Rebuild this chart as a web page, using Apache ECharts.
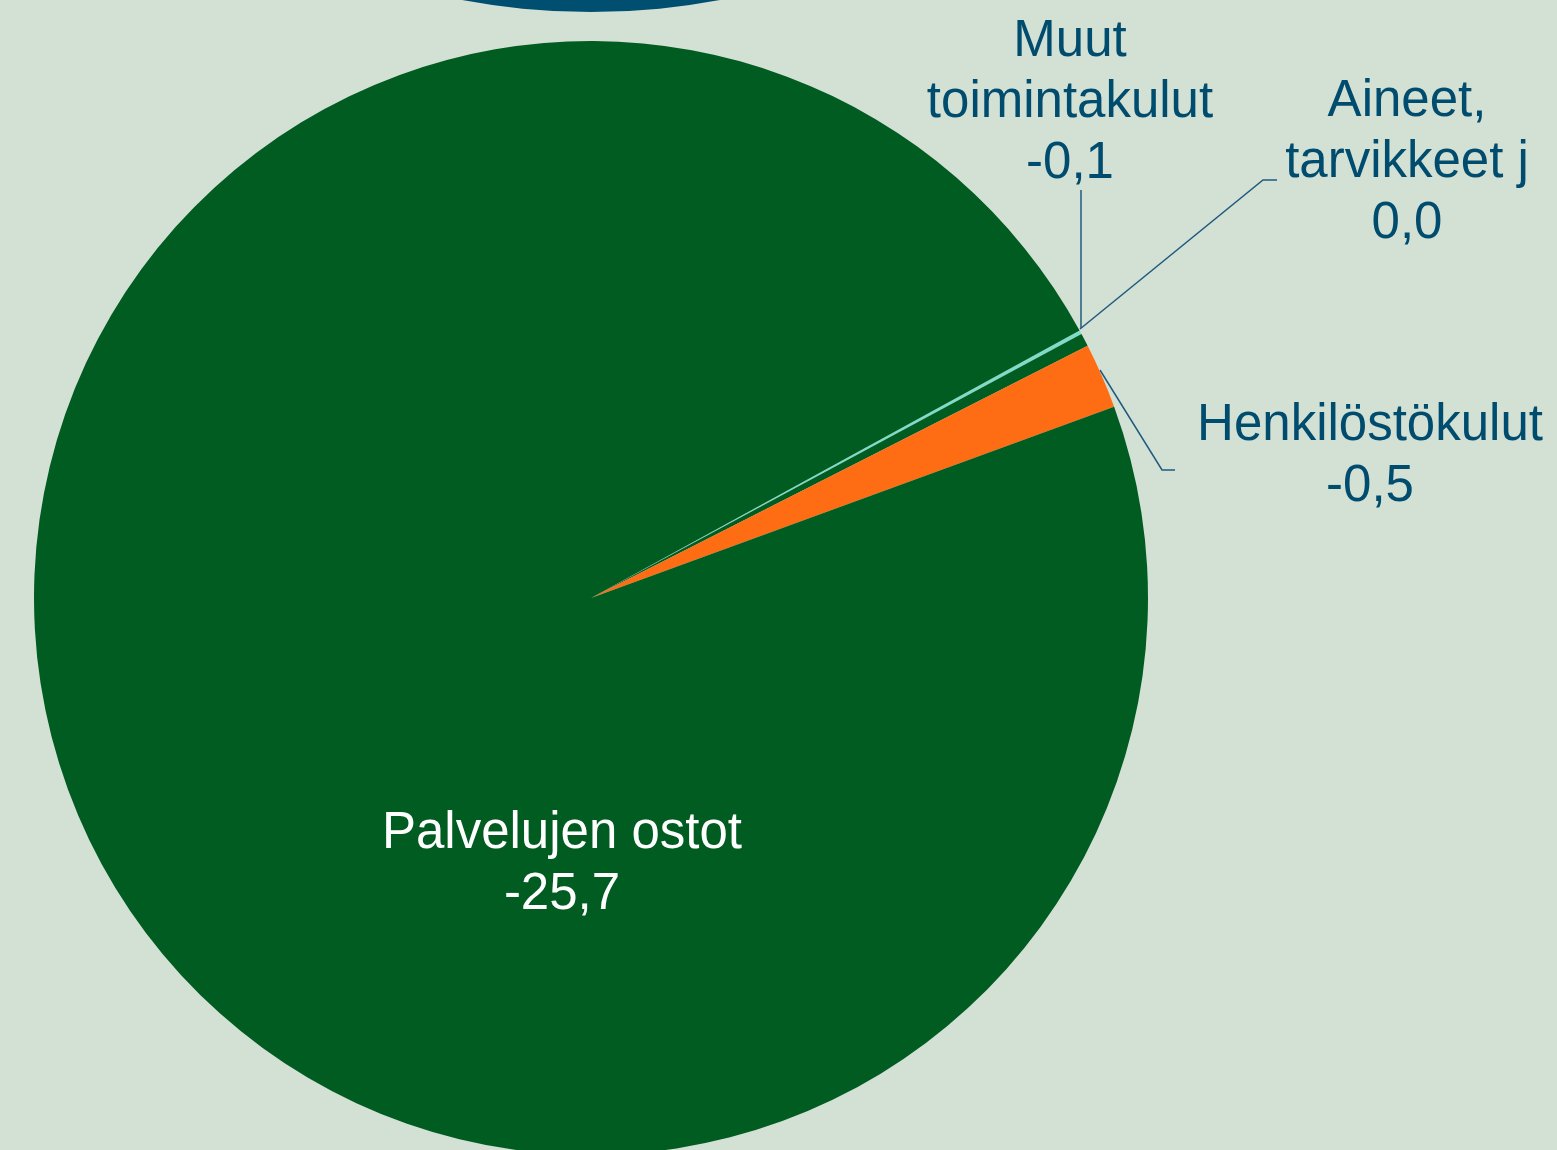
<!DOCTYPE html>
<html>
<head>
<meta charset="utf-8">
<script src="https://cdn.jsdelivr.net/npm/echarts@6/dist/echarts.min.js"></script>
<style>
    html, body { margin: 0; padding: 0; background: #d3e0d4; }
    #chart { width: 1557px; height: 1150px; }
</style>
</head>
<body>
<div id="chart"></div>
<script>
    // 数据（百万）
    const categories = ['Aineet,\ntarvikkeet j', 'Muut\ntoimintakulut', 'Henkilöstökulut', 'Palvelujen ostot']
    const values = [-0.03, -0.1, -0.5, -25.7]
    const colors = ['#7fdcc9', '#005c20', '#fe6d14', '#005c20']

    // label positions (label centre) and leader lines
    const labelPos = [[1407, 163], [1070, 103], [1370, 456], [562, 864]]
    const leaderLines = [
        [[1080, 329], [1263, 180], [1277, 180]],
        [[1081, 328], [1081, 190], [1081, 190]],
        [[1100, 370], [1162, 470], [1175, 470]],
        null
    ]

    const fmt = v => {
        let s = v.toFixed(1)
        if (s === '-0.0') s = '0.0'
        return s.replace('.', ',')
    }

    const seriesData = categories.map((name, i) => {
        const inside = i === 3
        return {
            name: name,
            value: Math.abs(values[i]),
            itemStyle: { color: colors[i] },
            label: {
                position: inside ? 'inside' : 'outside',
                color: inside ? '#ffffff' : '#004c6e'
            },
            labelLine: { show: !inside }
        }
    })

    const chart = echarts.init(document.getElementById('chart'))
    chart.setOption({
        backgroundColor: '#d3e0d4',
        animation: false,
        graphic: [{
            type: 'circle',
            shape: { cx: 591, cy: -687, r: 699 },
            style: { fill: '#004f70' },
            z: -1
        }],
        series: [{
            type: 'pie',
            center: [591, 598],
            radius: 557,
            startAngle: 28.7,
            clockwise: true,
            avoidLabelOverlap: false,
            itemStyle: { borderWidth: 0 },
            label: {
                show: true,
                fontFamily: 'Liberation Sans, Arial, sans-serif',
                fontSize: 51,
                lineHeight: 61,
                align: 'center',
                textBorderColor: 'inherit',
                formatter: p => p.name + '\n' + fmt(values[p.dataIndex])
            },
            labelLine: {
                show: true,
                lineStyle: { color: '#1f5b80', width: 1.5 }
            },
            labelLayout: params => {
                const i = params.dataIndex
                const res = {
                    x: labelPos[i][0],
                    y: labelPos[i][1],
                    align: 'center',
                    verticalAlign: 'middle'
                }
                if (leaderLines[i]) res.labelLinePoints = leaderLines[i]
                return res
            },
            data: seriesData
        }]
    })
</script>
</body>
</html>
